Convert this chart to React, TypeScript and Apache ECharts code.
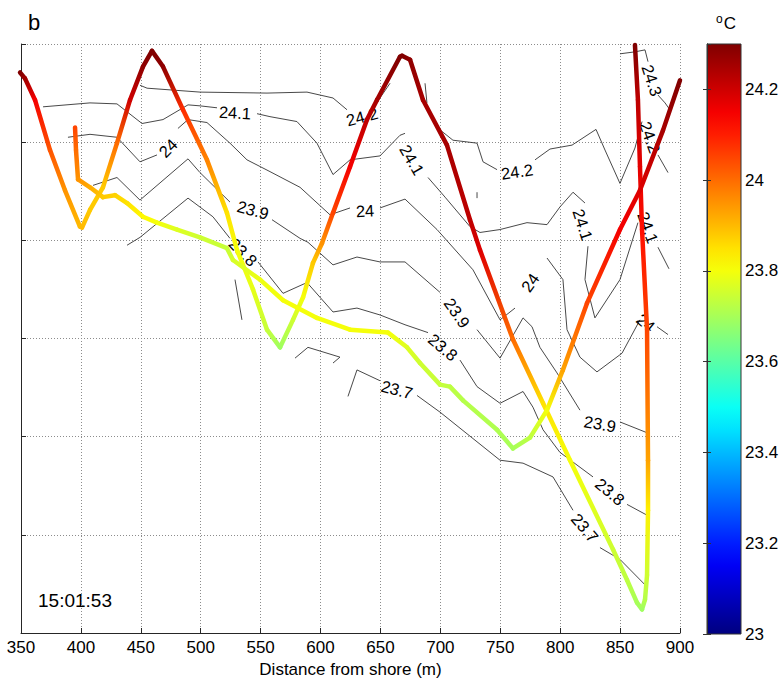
import React, { useEffect, useRef } from "react";
import * as echarts from "echarts";

const FONT = "'Liberation Sans', Arial, Helvetica, sans-serif";

// axes
const xMin = 350;
const xMax = 900;
const xStep = 50;
const depthMin = 0;
const depthMax = 6;
const tempMin = 23;
const tempMax = 24.3;
const tempStep = 0.2;
const xName = "Distance from shore (m)";
const panelLabel = "b";
const timeLabel = "15:01:53";

// glider track A: [distance (m), depth, temperature (°C)]
const pathA: number[][] = [
  [349.2, 0.29, 24.3], [353.3, 0.35, 24.26], [361.7, 0.57, 24.15], [374.2, 1.08, 24.03],
  [386.7, 1.49, 23.95], [399.2, 1.86, 23.9], [400.9, 1.87, 23.9], [407.6, 1.69, 23.88],
  [418.4, 1.46, 23.88], [430.1, 1.01, 24.0], [441.0, 0.57, 24.2], [451.8, 0.23, 24.28],
  [459.3, 0.07, 24.3], [468.5, 0.23, 24.28], [485.2, 0.67, 24.08], [505.2, 1.18, 23.97],
  [521.9, 1.72, 23.85], [530.3, 2.10, 23.8], [543.6, 2.50, 23.78], [555.3, 2.91, 23.74],
  [566.2, 3.09, 23.69], [577.0, 2.81, 23.75], [585.4, 2.58, 23.8], [593.7, 2.23, 23.88],
  [601.2, 2.03, 23.95], [610.4, 1.72, 24.05], [624.6, 1.25, 24.15], [638.8, 0.77, 24.22],
  [647.1, 0.57, 24.25], [666.3, 0.13, 24.3], [668.0, 0.12, 24.3], [674.7, 0.16, 24.28],
  [685.5, 0.57, 24.25], [705.5, 1.03, 24.25], [724.7, 1.79, 24.22], [733.1, 2.10, 24.18],
  [760.6, 3.01, 24.0], [785.7, 3.66, 23.85], [808.2, 4.24, 23.8], [844.1, 5.15, 23.75],
  [855.8, 5.46, 23.73], [864.1, 5.69, 23.7], [868.3, 5.76, 23.69], [870.8, 5.66, 23.72],
  [872.5, 5.41, 23.75], [873.3, 4.75, 23.83], [873.3, 4.24, 23.93], [872.5, 2.91, 24.05],
  [868.3, 1.89, 24.12], [866.6, 1.25, 24.17], [864.9, 0.57, 24.22], [862.4, 0.01, 24.3],
];

// glider track B
const pathB: number[][] = [
  [395.1, 0.85, 24.05], [395.9, 1.08, 24.0], [397.6, 1.38, 23.95], [407.6, 1.46, 23.92],
  [418.4, 1.56, 23.88], [428.5, 1.54, 23.87], [438.5, 1.62, 23.85], [451.8, 1.76, 23.82],
  [463.5, 1.82, 23.8], [480.2, 1.89, 23.77], [499.4, 1.97, 23.75], [521.9, 2.08, 23.74],
  [526.9, 2.20, 23.76], [549.5, 2.40, 23.79], [568.7, 2.61, 23.8], [597.0, 2.79, 23.8],
  [624.6, 2.91, 23.8], [656.3, 2.94, 23.8], [672.2, 3.09, 23.77], [683.0, 3.25, 23.75],
  [699.7, 3.47, 23.74], [708.0, 3.49, 23.73], [718.9, 3.63, 23.72], [747.3, 3.93, 23.71],
  [760.6, 4.12, 23.7], [774.8, 4.01, 23.73], [789.0, 3.73, 23.8], [802.3, 3.32, 23.93],
  [822.4, 2.64, 24.05], [849.9, 1.89, 24.15], [866.6, 1.49, 24.18], [885.8, 0.88, 24.25],
  [900.0, 0.37, 24.3],
];

// contour lines, one list of pieces per level
const c243: number[][][] = [
  [[849.9, 0.10], [862.4, 0.08], [870.8, 0.06], [873.3, 0.18]],
  [[881.6, 0.52], [887.5, 0.60], [891.6, 0.67]],
];
const c242: number[][][] = [
  [[449.3, 0.42], [455.2, 0.45], [499.4, 0.49], [555.3, 0.50], [588.7, 0.49], [610.4, 0.55], [622.1, 0.67]],
  [[647.9, 0.58], [658.0, 0.40]],
  [[697.2, 0.85], [710.5, 0.98], [730.6, 1.01], [735.6, 1.20], [747.3, 1.28]],
  [[779.0, 1.18], [791.5, 1.07], [809.9, 1.03], [829.9, 0.87], [837.4, 1.08], [849.9, 1.42], [862.4, 1.06], [868.3, 0.79]],
  [[881.6, 1.13], [890.0, 1.31]],
];
const c241: number[][][] = [
  [[368.4, 0.64], [407.6, 0.60], [430.1, 0.61], [451.0, 0.81], [468.5, 0.77], [489.4, 0.62], [499.4, 0.63], [513.6, 0.65]],
  [[547.0, 0.71], [557.8, 0.74], [580.3, 0.79], [597.0, 1.01], [610.4, 1.33], [624.6, 1.18], [649.6, 1.14], [666.3, 0.93], [670.5, 0.91]],
  [[689.7, 1.36], [703.9, 1.56], [724.7, 1.86], [733.1, 1.92], [749.8, 1.89], [772.3, 1.82], [789.0, 1.84], [799.8, 1.66], [810.7, 1.51], [820.7, 1.62]],
  [[823.2, 2.06], [820.7, 2.40], [829.0, 2.79], [849.9, 2.40], [864.9, 1.82]],
  [[881.6, 2.07], [890.8, 2.29]],
];
const c240: number[][][] = [
  [[389.2, 0.95], [407.6, 0.92], [430.1, 0.95], [449.3, 1.20], [463.5, 1.13]],
  [[481.0, 0.86], [489.4, 0.77], [505.2, 0.80], [524.4, 1.01], [538.6, 1.18], [557.8, 1.30], [582.9, 1.46], [607.9, 1.74], [624.6, 1.67]],
  [[649.6, 1.67], [670.5, 1.58], [697.2, 1.89], [727.2, 2.30], [749.8, 2.81], [762.3, 2.69]],
  [[789.0, 2.18], [802.3, 2.40], [805.7, 2.91], [816.5, 3.19], [830.7, 3.34], [851.6, 3.15], [866.6, 2.81]],
  [[880.8, 2.88], [890.0, 2.96]],
];
const c239: number[][][] = [
  [[410.1, 1.44], [430.1, 1.36], [449.3, 1.59], [489.4, 1.17], [499.4, 1.31], [524.4, 1.61]],
  [[559.5, 1.79], [582.9, 1.98], [589.5, 2.02], [610.4, 2.25], [630.4, 2.17], [649.6, 2.22], [670.5, 2.22], [699.7, 2.53]],
  [[730.6, 2.91], [749.8, 3.20], [769.0, 2.79], [776.5, 2.88], [783.1, 3.09], [797.3, 3.35], [816.5, 3.73]],
  [[849.9, 3.85], [872.5, 3.96]],
];
const c238: number[][][] = [
  [[438.5, 2.05], [449.3, 1.97], [489.4, 1.57], [510.2, 1.76], [524.4, 1.98]],
  [[547.8, 2.22], [568.7, 2.54], [588.7, 2.43], [610.4, 2.73], [630.4, 2.69], [649.6, 2.76], [670.5, 2.86], [689.7, 2.94]],
  [[716.4, 3.22], [730.6, 3.49], [749.8, 3.66], [769.0, 3.54], [777.3, 3.70], [785.7, 3.93], [799.8, 4.16], [827.4, 4.41]],
  [[855.8, 4.69], [872.5, 4.80]],
];
const c237: number[][][] = [
  [[622.9, 3.59], [630.4, 3.32], [649.6, 3.43]],
  [[680.5, 3.58], [699.7, 3.75], [749.8, 4.24], [769.0, 4.27], [794.0, 4.41], [810.7, 4.75]],
  [[833.2, 5.13], [849.9, 5.25], [872.5, 5.53]],
];
const cFragments: number[][][] = [
  [[578.7, 3.20], [589.5, 3.09], [616.2, 3.19], [610.4, 3.25]],
  [[528.6, 2.40], [534.4, 2.81]],
  [[687.2, 0.40], [688.8, 0.60]],
  [[730.6, 1.51], [730.6, 1.57]],
];

// contour labels: [distance, depth, text, angle (deg)]
const contourLabels: [number, number, string, number][] = [
  [876.6, 0.37, "24.3", -72],
  [634.6, 0.74, "24.2", 15],
  [764.0, 1.30, "24.2", 8],
  [875.0, 0.95, "24.2", -70],
  [528.6, 0.70, "24.1", -3],
  [676.3, 1.18, "24.1", -60],
  [819.0, 1.84, "24.1", -72],
  [873.3, 1.87, "24.1", -70],
  [472.7, 1.06, "24", 45],
  [637.1, 1.70, "24", 3],
  [774.8, 2.43, "24", 55],
  [871.6, 2.84, "24", -40],
  [543.6, 1.69, "23.9", -15],
  [713.9, 2.74, "23.9", -55],
  [833.2, 3.87, "23.9", -10],
  [535.3, 2.12, "23.8", -45],
  [702.2, 3.09, "23.8", -40],
  [841.6, 4.56, "23.8", -40],
  [663.8, 3.52, "23.7", -15],
  [820.7, 4.93, "23.7", -50],
];

function jet(temp: number): string {
  const v = Math.min(1, Math.max(0, (temp - tempMin) / (tempMax - tempMin)));
  const f = (a: number) => Math.round(255 * Math.min(1, Math.max(0, 1.5 - Math.abs(4 * v - a))));
  return `rgb(${f(3)},${f(2)},${f(1)})`;
}

function toSegments(path: number[][]): number[][] {
  const out: number[][] = [];
  for (let i = 0; i < path.length - 1; i++) out.push([...path[i], ...path[i + 1]]);
  return out;
}

export default function App() {
  const ref = useRef<HTMLDivElement>(null);
  useEffect(() => {
    if (!ref.current) return;
    const chart = echarts.init(ref.current, null, { renderer: "svg" });
    const segments = [...toSegments(pathA), ...toSegments(pathB)];
    const contourData = [c243, c242, c241, c240, c239, c238, c237, cFragments]
      .flat()
      .map((p) => ({ coords: p }));
    const cbStops: { offset: number; color: string }[] = [];
    for (let k = 0; k <= 26; k++) {
      const o = k / 26;
      cbStops.push({ offset: o, color: jet(tempMax - (tempMax - tempMin) * o) });
    }
    const axisColor = "#262626";
    const gridLine = { show: true, lineStyle: { color: "#8c8c8c", type: [1, 2] as any, width: 1 } };

    chart.setOption({
      animation: false,
      backgroundColor: "#ffffff",
      textStyle: { fontFamily: FONT },
      grid: [
        { left: 21, right: 104, top: 44, bottom: 51 },
        { left: 707, right: 43, top: 44, bottom: 50 },
      ],
      xAxis: [
        {
          gridIndex: 0, type: "value", min: xMin, max: xMax, interval: xStep,
          name: xName, nameLocation: "middle", nameGap: 28,
          nameTextStyle: { fontSize: 17, color: "#000", fontFamily: FONT },
          axisLine: { show: true, onZero: false, lineStyle: { color: axisColor, width: 1 } },
          axisTick: { show: true, inside: true, length: 5, lineStyle: { color: axisColor } },
          axisLabel: { fontSize: 17, color: "#000", margin: 6, fontFamily: FONT },
          splitLine: gridLine,
        },
        { gridIndex: 1, type: "value", min: 0, max: 1, show: false },
      ],
      yAxis: [
        {
          gridIndex: 0, type: "value", min: depthMin, max: depthMax, interval: 1, inverse: true,
          axisLine: { show: true, onZero: false, lineStyle: { color: axisColor, width: 1 } },
          axisTick: { show: true, inside: true, length: 5, lineStyle: { color: axisColor } },
          axisLabel: { show: false },
          splitLine: gridLine,
        },
        {
          gridIndex: 1, type: "value", min: tempMin, max: tempMax, interval: tempStep, position: "right", z: 10,
          axisLine: { show: true, lineStyle: { color: "#333" } },
          axisTick: { show: true, inside: true, length: 4, lineStyle: { color: "#333" } },
          axisLabel: { fontSize: 17, color: "#000", margin: 4, showMaxLabel: false, fontFamily: FONT },
          splitLine: { show: false },
        },
        {
          gridIndex: 1, type: "value", min: tempMin, max: tempMax, interval: tempStep, position: "left", z: 10,
          axisLine: { show: true, lineStyle: { color: "#333" } },
          axisTick: { show: true, inside: true, length: 4, lineStyle: { color: "#333" } },
          axisLabel: { show: false },
          splitLine: { show: false },
        },
      ],
      graphic: [
        { type: "text", left: 28, top: 11, style: { text: panelLabel, fontSize: 22, fill: "#000", fontFamily: FONT } },
        {
          type: "text", left: 716, top: 13,
          style: {
            text: "{o|o}C", fontSize: 17, fill: "#000", fontFamily: FONT,
            rich: { o: { fontSize: 12, fontFamily: FONT, fill: "#000", padding: [0, 1, 8, 0] } },
          },
        },
        { type: "text", left: 38, top: 591, style: { text: timeLabel, fontSize: 19, fill: "#000", fontFamily: FONT } },
      ],
      series: [
        {
          type: "custom", name: "colorbar", xAxisIndex: 1, yAxisIndex: 1, z: 1, silent: true,
          data: [[0, tempMin, 1, tempMax]],
          renderItem: (_p: any, api: any) => {
            const p0 = api.coord([api.value(0), api.value(3)]);
            const p1 = api.coord([api.value(2), api.value(1)]);
            return {
              type: "rect",
              shape: { x: p0[0], y: p0[1], width: p1[0] - p0[0], height: p1[1] - p0[1] },
              style: { fill: new echarts.graphic.LinearGradient(0, 0, 0, 1, cbStops), stroke: "#333", lineWidth: 1 },
            };
          },
        },
        {
          type: "lines", name: "contours", coordinateSystem: "cartesian2d", xAxisIndex: 0, yAxisIndex: 0,
          polyline: true, silent: true, z: 2,
          lineStyle: { color: "#333333", width: 0.9, opacity: 1, curveness: 0 },
          data: contourData,
        },
        {
          type: "custom", name: "contourLabels", xAxisIndex: 0, yAxisIndex: 0, z: 3, silent: true,
          data: contourLabels.map((l) => [l[0], l[1]]),
          renderItem: (params: any, api: any) => {
            const l = contourLabels[params.dataIndex];
            const p = api.coord([l[0], l[1]]);
            return {
              type: "text", x: p[0], y: p[1], rotation: (l[3] * Math.PI) / 180,
              style: {
                text: l[2], fontSize: 16.5, fontFamily: FONT, fill: "#000",
                align: "center", verticalAlign: "middle", textAlign: "center", textVerticalAlign: "middle",
              },
            };
          },
        },
        {
          type: "custom", name: "track", xAxisIndex: 0, yAxisIndex: 0, z: 5, silent: true,
          encode: { x: [0, 3], y: [1, 4] },
          data: segments,
          renderItem: (_p: any, api: any) => {
            const a = api.coord([api.value(0), api.value(1)]);
            const b = api.coord([api.value(3), api.value(4)]);
            const ca = jet(api.value(2));
            const cb = jet(api.value(5));
            return {
              type: "line",
              shape: { x1: a[0], y1: a[1], x2: b[0], y2: b[1] },
              style: {
                stroke: new echarts.graphic.LinearGradient(a[0], a[1], b[0] + 0.01, b[1] + 0.01, [
                  { offset: 0, color: ca }, { offset: 1, color: cb },
                ], true),
                lineWidth: 4.5, lineCap: "round",
              },
            };
          },
        },
      ],
    });
    return () => chart.dispose();
  }, []);
  return (
    <div
      ref={ref}
      style={{ position: "fixed", left: 0, top: 0, width: 784, height: 684, background: "#fff" }}
    />
  );
}
